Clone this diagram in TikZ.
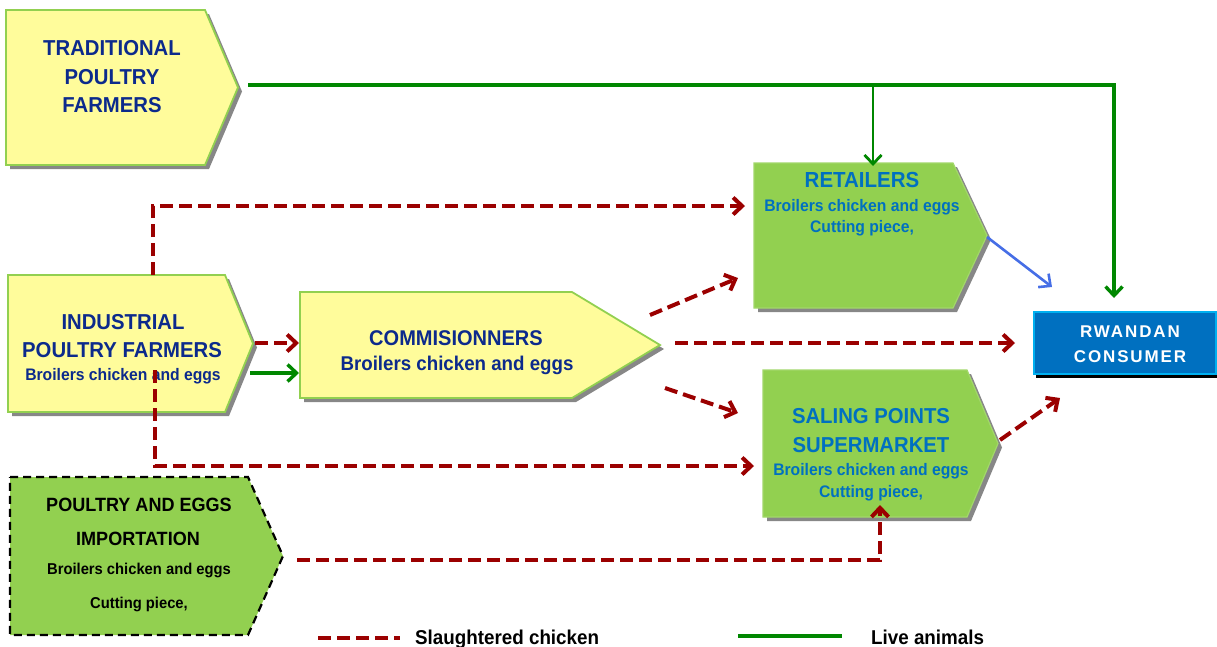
\documentclass[tikz,border=0pt]{standalone}
\usepackage{fontspec}
\setmainfont{Liberation Sans}[FakeStretch=0.94]
\newfontfamily\spacedfont{Liberation Sans}[LetterSpace=11]
\usetikzlibrary{arrows.meta,calc}
\definecolor{yfill}{RGB}{255,252,155}
\definecolor{gfill}{RGB}{146,208,80}
\definecolor{shadowc}{RGB}{135,135,135}
\definecolor{navy}{RGB}{12,42,140}
\definecolor{mblue}{RGB}{0,112,192}
\definecolor{dred}{RGB}{155,0,0}
\definecolor{lgreen}{RGB}{0,135,0}
\definecolor{rblue}{RGB}{70,110,230}
\definecolor{cyanb}{RGB}{0,176,240}
\newcommand\pentpath[5]{(#1,#2) -- (#3,#2) -- (#4,{(#2+#5)/2}) -- (#3,#5) -- (#1,#5) -- cycle}
\begin{document}
\begin{tikzpicture}[x=1pt,y=-1pt,
  txt/.style={inner sep=0pt,anchor=base,font=\bfseries},
  ybox/.style={fill=yfill,draw=gfill,line width=1.8pt,line join=miter},
  gbox/.style={fill=gfill,draw=gfill!85!white,line width=1.2pt},
  shad/.style={fill=shadowc},
  tip/.style={-{Straight Barb[length=9pt,width=17pt]}},
  slaught/.style={draw=dred,line width=4pt,dash pattern=on 13pt off 6pt},
  live/.style={draw=lgreen,line width=3.4pt},
  toblue/.style={draw=rblue,line width=2.6pt}]
\useasboundingbox (0,0) rectangle (1217,646);

% shadows
\begin{scope}[shift={(4,4)}]
\fill[shad] \pentpath{6}{10}{205}{238}{165};
\fill[shad] \pentpath{8}{275}{225}{253}{412};
\fill[shad] \pentpath{300}{292}{572}{660}{398};
\fill[shad] \pentpath{754}{163}{953}{987}{308};
\fill[shad] \pentpath{763}{370}{967}{998}{517};
\end{scope}
\fill[black] (1036,316) rectangle (1217,378);

% boxes
\path[ybox] \pentpath{6}{10}{205}{238}{165};
\path[ybox] \pentpath{8}{275}{225}{253}{412};
\path[ybox] \pentpath{300}{292}{572}{660}{398};
\path[gbox] \pentpath{754}{163}{953}{987}{308};
\path[gbox] \pentpath{763}{370}{967}{998}{517};
\path[fill=gfill,draw=black,line width=2.2pt,dash pattern=on 8pt off 5pt] \pentpath{10}{477}{248}{283}{635};
\path[fill=mblue,draw=cyanb,line width=1.2pt] (1034,312) rectangle (1216,374);

% texts
\node[txt,navy,font=\bfseries\fontsize{21.6}{24}\selectfont] (trad1) at (112,55) {TRADITIONAL};
\node[txt,navy,font=\bfseries\fontsize{21.6}{24}\selectfont] (trad2) at (112,84) {POULTRY};
\node[txt,navy,font=\bfseries\fontsize{21.6}{24}\selectfont] (trad3) at (112,112) {FARMERS};

\node[txt,navy,font=\bfseries\fontsize{21.6}{24}\selectfont] (ind1) at (123,329) {INDUSTRIAL};
\node[txt,navy,font=\bfseries\fontsize{21.6}{24}\selectfont] (ind2) at (122,357) {POULTRY FARMERS};
\node[txt,navy,font=\bfseries\fontsize{16.7}{20}\selectfont] (ind3) at (123,380) {Broilers chicken and eggs};

\node[txt,navy,font=\bfseries\fontsize{21.3}{24}\selectfont] (com1) at (456,345) {COMMISIONNERS};
\node[txt,navy,font=\bfseries\fontsize{19.9}{24}\selectfont] (com2) at (457,370) {Broilers chicken and eggs};

\node[txt,mblue,font=\bfseries\fontsize{21.8}{24}\selectfont] (ret1) at (862,187) {RETAILERS};
\node[txt,mblue,font=\bfseries\fontsize{16.7}{20}\selectfont] (ret2) at (862,211) {Broilers chicken and eggs};
\node[txt,mblue,font=\bfseries\fontsize{16.7}{20}\selectfont] (ret3) at (862,232) {Cutting piece,};

\node[txt,mblue,font=\bfseries\fontsize{21.6}{24}\selectfont] (sal1) at (871,423) {SALING POINTS};
\node[txt,mblue,font=\bfseries\fontsize{21.6}{24}\selectfont] (sal2) at (871,452) {SUPERMARKET};
\node[txt,mblue,font=\bfseries\fontsize{16.7}{20}\selectfont] (sal3) at (871,475) {Broilers chicken and eggs};
\node[txt,mblue,font=\bfseries\fontsize{16.7}{20}\selectfont] (sal4) at (871,497) {Cutting piece,};

\node[txt,black,font=\bfseries\fontsize{19.2}{24}\selectfont] (imp1) at (139,511) {POULTRY AND EGGS};
\node[txt,black,font=\bfseries\fontsize{19.2}{24}\selectfont] (imp2) at (138,545) {IMPORTATION};
\node[txt,black,font=\bfseries\fontsize{15.7}{20}\selectfont] (imp3) at (139,574) {Broilers chicken and eggs};
\node[txt,black,font=\bfseries\fontsize{15.7}{20}\selectfont] (imp4) at (139,608) {Cutting piece,};

\node[txt,white,font=\spacedfont\bfseries\fontsize{17}{20}\selectfont] (con1) at (1130,337) {RWANDAN};
\node[txt,white,font=\spacedfont\bfseries\fontsize{17}{20}\selectfont] (con2) at (1130,362) {CONSUMER};

% connector end points
\coordinate (tradout) at (248,85);
\coordinate (consintop) at (1114,298);
\coordinate (retintop) at (873,166);
\coordinate (indtop) at (153,275);
\coordinate (retinleft) at (745,206);
\coordinate (indoutA) at (255,343);
\coordinate (cominA) at (299,343);
\coordinate (indoutB) at (250,373);
\coordinate (cominB) at (299,373);
\coordinate (indbot) at (155,370);
\coordinate (salinleft) at (754,466);
\coordinate (comoutA) at (650,315);
\coordinate (retinB) at (738,278);
\coordinate (comoutB) at (675,343);
\coordinate (consinleft) at (1015,343);
\coordinate (comoutC) at (665,388);
\coordinate (salinB) at (738,413);
\coordinate (rettip) at (987,237);
\coordinate (consinA) at (1052,287);
\coordinate (saltip) at (1000,440);
\coordinate (consinB) at (1060,398);
\coordinate (impout) at (297,560);
\coordinate (salbot) at (880,505);

% connectors
\draw[live,tip] (tradout) -| (consintop);
\draw[live,line width=2.8pt,tip] (retintop |- tradout) -- (retintop);
\draw[slaught,tip] (indtop) |- (retinleft);
\draw[slaught,tip] (indoutA) -- (cominA);
\draw[live,tip] (indoutB) -- (cominB);
\draw[slaught,tip] (indbot) |- (salinleft);
\draw[slaught,tip] (comoutA) -- (retinB);
\draw[slaught,tip] (comoutB) -- (consinleft);
\draw[slaught,tip] (comoutC) -- (salinB);
\draw[toblue,tip] (rettip) -- (consinA);
\draw[slaught,tip] (saltip) -- (consinB);
\draw[slaught,tip] (impout) -| (salbot);

% legend
\coordinate (legAa) at (318,638);
\coordinate (legAb) at (400,638);
\coordinate (legBa) at (738,636);
\coordinate (legBb) at (842,636);
\draw[slaught] (legAa) -- (legAb);
\draw[live,line width=4pt] (legBa) -- (legBb);
\node[txt,anchor=base west,font=\bfseries\fontsize{20}{24}\selectfont] (legA) at (415,644) {Slaughtered chicken};
\node[txt,anchor=base west,font=\bfseries\fontsize{20}{24}\selectfont] (legB) at (871,644) {Live animals};
\end{tikzpicture}
\end{document}
